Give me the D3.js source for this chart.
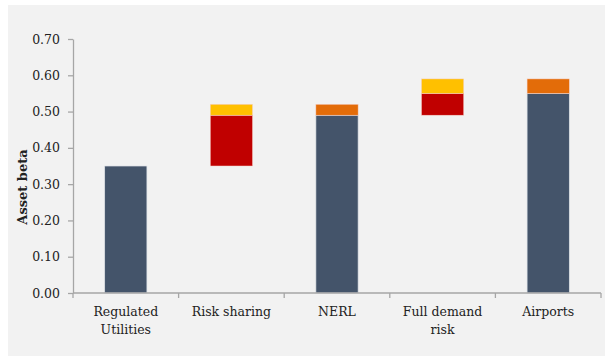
<!DOCTYPE html>
<html>
<head>
<meta charset="utf-8">
<script src="https://cdn.jsdelivr.net/npm/d3@7"></script>
<style>
  body { margin: 0; background: #fff; }
  svg { display: block; }
  text { font-family: "DejaVu Serif", serif; fill: #222; }
</style>
</head>
<body>
<div id="chart"></div>
<script>
// Categories along the x axis
const categories = ['Regulated Utilities', 'Risk sharing', 'NERL', 'Full demand risk', 'Airports'];

// Base (solid) bars, null where there is none
const baseValues = [0.35, null, 0.49, null, 0.55];

// Floating segments: category index, from, to, kind
const segFrom = [0.35, 0.49, 0.49, 0.49, 0.55, 0.55];
const segTo   = [0.49, 0.52, 0.52, 0.55, 0.59, 0.59];
const segCat  = [1, 1, 2, 3, 3, 4];
const segKind = ['red', 'yellow', 'orange', 'red', 'yellow', 'orange'];

const yTicks = [0, 0.1, 0.2, 0.3, 0.4, 0.5, 0.6, 0.7];

const colors = {
    base: '#44546a',
    red: '#c00000',
    yellow: '#ffc000',
    orange: '#e36c09'
};

const width = 605, height = 356;
const margin = {left: 73, right: 4, top: 39, bottom: 63};

const svg = d3.select('#chart')
    .append('svg')
    .attr('width', width)
    .attr('height', height);

// grey panel with a white strip along the top and left
svg.append('rect')
    .attr('x', 8).attr('y', 5)
    .attr('width', width - 8).attr('height', height - 5)
    .attr('fill', '#f2f2f2');

const x = d3.scaleBand()
    .domain(categories)
    .range([margin.left, width - margin.right])
    .paddingInner(0.6)
    .paddingOuter(0.3);

const y = d3.scaleLinear()
    .domain([0, 0.7])
    .range([height - margin.bottom, margin.top]);

// base bars
svg.selectAll('.base')
    .data(categories.map((c, i) => ({c, v: baseValues[i]})).filter(d => d.v != null))
    .enter()
    .append('rect')
    .attr('class', 'base')
    .attr('x', d => x(d.c))
    .attr('y', d => y(d.v))
    .attr('width', x.bandwidth())
    .attr('height', d => y(0) - y(d.v))
    .attr('fill', colors.base)
    .attr('stroke', '#dfe3e8')
    .attr('stroke-width', 0.7);

// floating segments
const segs = segFrom.map((f, i) => ({c: categories[segCat[i]], from: f, to: segTo[i], kind: segKind[i]}));
svg.selectAll('.seg')
    .data(segs)
    .enter()
    .append('rect')
    .attr('class', 'seg')
    .attr('x', d => x(d.c))
    .attr('y', d => y(d.to))
    .attr('width', x.bandwidth())
    .attr('height', d => y(d.from) - y(d.to))
    .attr('fill', d => colors[d.kind])
    .attr('stroke', '#f6d0c8')
    .attr('stroke-width', 0.5);

// y axis
const yAxis = svg.append('g')
    .attr('transform', 'translate(' + margin.left + ',0)')
    .call(d3.axisLeft(y).tickValues(yTicks).tickFormat(d3.format('.2f')).tickSize(5).tickSizeOuter(0));
yAxis.select('.domain').attr('stroke', '#a6a6a6').attr('stroke-width', 1.3);
yAxis.selectAll('.tick line').attr('stroke', '#a6a6a6').attr('stroke-width', 1.3);
yAxis.selectAll('.tick text')
    .attr('x', -13)
    .style('font-family', '"DejaVu Serif", serif')
    .style('font-size', '12.5px')
    .attr('fill', '#222');

// x axis with ticks between the categories
const xAxis = svg.append('g')
    .attr('transform', 'translate(0,' + y(0) + ')');
xAxis.append('line')
    .attr('x1', margin.left).attr('x2', width - margin.right)
    .attr('stroke', '#a6a6a6').attr('stroke-width', 1.3);
const step = x.step();
const bounds = categories.map((c, i) => x(c) - x.paddingInner() * step / 2).concat([width - margin.right]);
xAxis.selectAll('.xt')
    .data(bounds)
    .enter()
    .append('line')
    .attr('x1', d => d).attr('x2', d => d)
    .attr('y1', 0).attr('y2', 5)
    .attr('stroke', '#a6a6a6').attr('stroke-width', 1.3);

// category labels, wrapped like the original
const labelLines = [['Regulated', 'Utilities'], ['Risk sharing'], ['NERL'], ['Full demand', 'risk'], ['Airports']];
categories.forEach((c, i) => {
    const t = svg.append('text')
        .attr('x', x(c) + x.bandwidth() / 2)
        .attr('y', y(0) + 23)
        .attr('text-anchor', 'middle')
        .style('font-size', '12.5px');
    labelLines[i].forEach((line, j) => {
        t.append('tspan')
            .attr('x', x(c) + x.bandwidth() / 2)
            .attr('dy', j === 0 ? 0 : 17.5)
            .text(line);
    });
});

// y axis title
svg.append('text')
    .attr('transform', 'translate(27,187) rotate(-90)')
    .attr('text-anchor', 'middle')
    .style('font-size', '13px')
    .style('font-weight', 'bold')
    .text('Asset beta');
</script>
</body>
</html>
